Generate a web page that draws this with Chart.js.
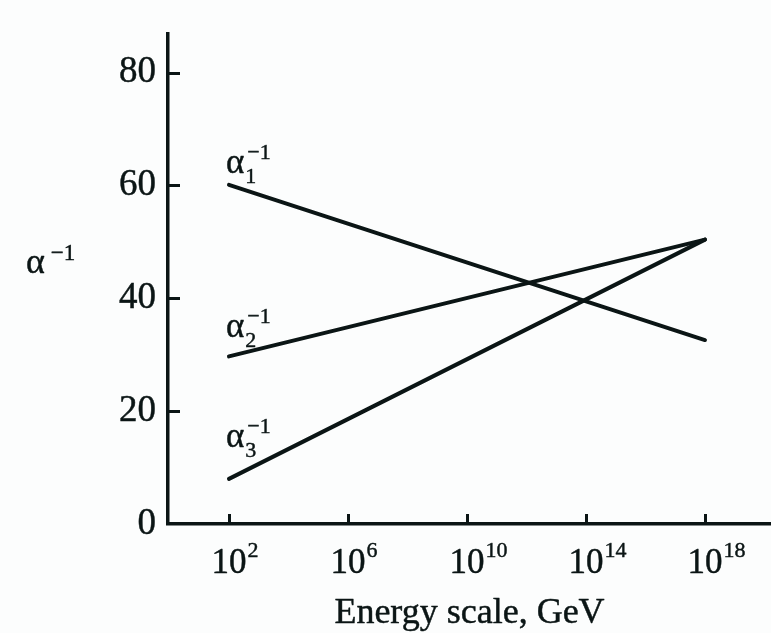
<!DOCTYPE html>
<html>
<head>
<meta charset="utf-8">
<script src="https://cdn.jsdelivr.net/npm/chart.js@4/dist/chart.umd.min.js"></script>
<style>
  html, body { margin: 0; padding: 0; background: #fcfdfd; }
  #wrap { width: 771px; height: 633px; }
</style>
</head>
<body>
<div id="wrap"><canvas id="chart" width="771" height="633"></canvas></div>
<script>
// ── Data (x = log10 of energy scale in GeV) ─────────────────────
const energyExp = [2, 18];
const alpha1Inv = [60.1, 32.6];
const alpha2Inv = [29.7, 50.4];
const alpha3Inv = [8.0, 50.4];
const seriesSub = ['1', '2', '3'];
const xTickExps = [2, 6, 10, 14, 18];
const yTickVals = [0, 20, 40, 60, 80];

const INK = '#0b1515';
const SERIF = '"Liberation Serif", "Times New Roman", serif';

function pts(ys) {
    return energyExp.map((x, i) => ({ x, y: ys[i] }));
}

// labels sit above the left end of each line; px offsets only
const labelLift = [12, 19, 32];

// slightly heavier text, like the scanned print
function inkText(c, s, x, y) {
    c.fillText(s, x, y);
    c.strokeText(s, x, y);
}

const axisDecor = {
    id: 'axisDecor',
    beforeDraw(chart) {
        const c = chart.ctx;
        c.save();
        c.fillStyle = '#fcfdfd';
        c.fillRect(0, 0, chart.width, chart.height);
        c.restore();
    },
    afterDraw(chart) {
        const c = chart.ctx;
        const xs = chart.scales.x, ys = chart.scales.y;
        const area = chart.chartArea;
        c.save();
        c.strokeStyle = INK;
        c.fillStyle = INK;
        c.lineWidth = 3;

        // inward tick marks
        yTickVals.filter(v => v > 0).forEach(v => {
            const py = Math.round(ys.getPixelForValue(v)) + 0.5;
            c.beginPath();
            c.moveTo(area.left, py);
            c.lineTo(area.left + 12, py);
            c.stroke();
        });
        xTickExps.forEach(e => {
            const px = Math.round(xs.getPixelForValue(e)) + 0.5;
            c.beginPath();
            c.moveTo(px, area.bottom);
            c.lineTo(px, area.bottom - 10);
            c.stroke();
        });

        c.lineWidth = 0.45;
        c.lineJoin = 'round';

        // x tick labels: 10^n
        c.textBaseline = 'alphabetic';
        xTickExps.forEach(e => {
            const px = xs.getPixelForValue(e);
            c.font = '35px ' + SERIF;
            c.textAlign = 'center';
            const w = c.measureText('10').width;
            inkText(c, '10', px, 573);
            c.font = '22px ' + SERIF;
            c.textAlign = 'left';
            inkText(c, String(e), px + w / 2 + 1, 557);
        });

        // y axis title: alpha^-1
        c.textAlign = 'left';
        c.font = '36px ' + SERIF;
        inkText(c, '\u03b1', 26, 273);
        const aw = c.measureText('\u03b1').width;
        c.font = '23px ' + SERIF;
        inkText(c, '\u22121', 26 + aw + 6, 260);

        // series labels alpha_i^-1
        chart.data.datasets.forEach((ds, i) => {
            const p = chart.getDatasetMeta(i).data[0];
            const bx = p.x - 3, by = p.y - labelLift[i];
            c.font = '35px ' + SERIF;
            inkText(c, '\u03b1', bx, by);
            const w = c.measureText('\u03b1').width;
            c.font = '22px ' + SERIF;
            inkText(c, seriesSub[i], bx + w + 1, by + 10);
            inkText(c, '\u22121', bx + w + 3, by - 14);
        });

        // x axis title
        c.font = '36px ' + SERIF;
        c.textAlign = 'center';
        inkText(c, 'Energy scale, GeV', (area.left + area.right) / 2, 623);
        c.restore();
    }
};

new Chart(document.getElementById('chart'), {
    type: 'line',
    data: {
        datasets: [
            { label: '\u03b1\u2081\u207b\u00b9', data: pts(alpha1Inv) },
            { label: '\u03b1\u2082\u207b\u00b9', data: pts(alpha2Inv) },
            { label: '\u03b1\u2083\u207b\u00b9', data: pts(alpha3Inv) },
        ].map(d => Object.assign(d, {
            borderColor: INK,
            borderWidth: 4,
            borderCapStyle: 'round',
            pointRadius: 0,
            tension: 0,
            fill: false,
        })),
    },
    options: {
        responsive: false,
        animation: false,
        devicePixelRatio: 1,
        layout: { padding: { top: 13, right: 0, left: 0, bottom: 0 } },
        plugins: { legend: { display: false }, tooltip: { enabled: false } },
        scales: {
            x: {
                type: 'linear',
                min: -0.05,
                max: 20.22,
                grid: { display: false, drawTicks: false },
                border: { display: true, color: INK, width: 3.5 },
                ticks: { display: false },
                afterFit: s => { s.height = 109; },
            },
            y: {
                type: 'linear',
                min: 0,
                max: 86.8,
                grid: { display: false, drawTicks: false },
                border: { display: true, color: INK, width: 3.5 },
                afterBuildTicks: s => { s.ticks = yTickVals.map(v => ({ value: v })); },
                afterFit: s => { s.width = 168; },
                ticks: {
                    color: INK,
                    padding: 12,
                    textStrokeColor: INK,
                    textStrokeWidth: 0.45,
                    font: { family: SERIF, size: 37 },
                },
            },
        },
    },
    plugins: [axisDecor],
});
</script>
</body>
</html>
